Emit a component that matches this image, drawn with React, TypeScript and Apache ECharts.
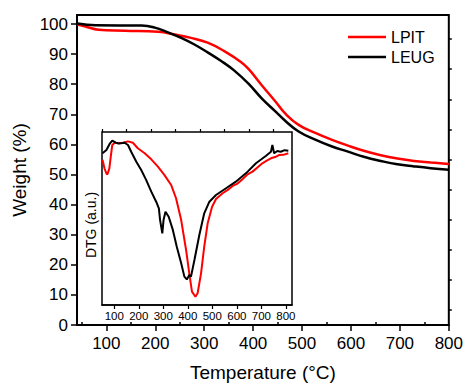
import React, { useEffect, useRef } from "react";
import * as echarts from "echarts";

// TG curves (main plot): temperature (°C) and weight (%)
const lpitTgT = [41, 57, 84, 138, 206, 240, 273, 307, 341, 375, 391, 418, 446, 466, 493, 527, 560, 594, 628, 661, 695, 729, 763, 800];
const lpitTgW = [99.8, 99.2, 98.1, 97.8, 97.4, 96.5, 95.4, 93.8, 91.0, 87.4, 85.0, 79.6, 74.2, 70.2, 66.5, 63.8, 61.6, 59.6, 57.8, 56.4, 55.3, 54.5, 54.0, 53.5];
const leugTgT = [41, 78, 172, 199, 226, 253, 280, 307, 334, 361, 391, 418, 446, 466, 493, 527, 560, 594, 628, 661, 695, 729, 763, 800];
const leugTgW = [100.2, 99.6, 99.5, 98.8, 97.2, 95.4, 93.2, 90.6, 87.8, 84.6, 80.1, 75.2, 70.9, 67.8, 64.3, 61.6, 59.4, 57.6, 55.8, 54.5, 53.4, 52.7, 52.1, 51.6];

// DTG curves (inset): temperature (°C) and DTG (a.u.)
const lpitDtgT = [52, 60, 68, 72, 80, 86, 92, 102, 118, 135, 156, 176, 196, 224, 251, 278, 305, 332, 352, 373, 393, 406, 417, 431, 440, 454, 467, 481, 499, 515, 542, 563, 583, 603, 623, 644, 664, 684, 704, 722, 739, 756, 772, 790, 810];
const lpitDtg = [84, 79, 76, 75.5, 79, 86, 92.5, 93.8, 93.5, 93.8, 94.6, 93.8, 90.6, 87.7, 84.2, 80, 75.1, 69.4, 61.7, 49.1, 31.8, 18.3, 7.7, 4.8, 6.8, 18.3, 33.7, 47.2, 56.8, 61.3, 64.6, 66.5, 68.8, 70.2, 72.7, 75.5, 77.1, 79.5, 81.9, 83.5, 84.8, 85.5, 86.7, 86.8, 87.7];
const leugDtgT = [52, 68, 81, 92, 106, 119, 142, 156, 169, 190, 210, 230, 251, 271, 282, 287, 296, 301, 309, 322, 339, 355, 373, 386, 396, 406, 413, 427, 447, 467, 488, 515, 556, 596, 637, 678, 718, 739, 745, 752, 765, 779, 795, 810];
const leugDtg = [87.7, 89.6, 93.1, 95, 93.8, 93.4, 93.8, 92.5, 88.6, 82.8, 78, 72.3, 65.5, 59.7, 55.9, 49.1, 41.4, 49.1, 53.9, 51, 43.4, 33.7, 24.1, 16.4, 14.8, 17.3, 16.4, 26, 40.5, 53, 59.7, 63.6, 67.5, 71.3, 76.1, 81.9, 86.1, 88.6, 92.5, 87.7, 89, 88.6, 89.5, 89.2];

const mainXMajor = [100, 200, 300, 400, 500, 600, 700, 800];
const mainXMinor = [50, 150, 250, 350, 450, 550, 650, 750];
const mainYMajor = [0, 10, 20, 30, 40, 50, 60, 70, 80, 90, 100];
const mainYMinor = [5, 15, 25, 35, 45, 55, 65, 75, 85, 95];
const insetXMajor = [100, 200, 300, 400, 500, 600, 700, 800];
const insetXMinor = [50, 150, 250, 350, 450, 550, 650, 750];

const zip = (a: number[], b: number[]) => a.map((v, i) => [v, b[i]]);

const FONT = "Arial, 'Liberation Sans', sans-serif";

export default function App() {
  const ref = useRef<HTMLDivElement>(null);
  useEffect(() => {
    if (!ref.current) return;
    const chart = echarts.init(ref.current, null, { renderer: "svg" });
    const black = "#000";
    chart.setOption({
      animation: false,
      textStyle: { fontFamily: FONT },
      grid: [
        { left: 77, top: 15, right: 14, bottom: 57, show: true, borderColor: black, borderWidth: 2, backgroundColor: "transparent" },
        { left: 102, top: 132, width: 190, height: 173, show: true, borderColor: black, borderWidth: 1.5, backgroundColor: "#fff", z: 5 },
      ],
      legend: {
        data: ["LPIT", "LEUG"],
        orient: "vertical",
        left: 348,
        top: 29,
        padding: 0,
        itemWidth: 38,
        itemHeight: 2.5,
        itemGap: 4,
        icon: "rect",
        textStyle: { fontSize: 16, color: black, fontFamily: FONT },
      },
      xAxis: [
        {
          gridIndex: 0, type: "value", min: 40, max: 800,
          axisLine: { show: true, lineStyle: { color: black, width: 2 } },
          axisTick: { show: true, customValues: mainXMajor, length: 6, lineStyle: { color: black, width: 1.5 } },
          axisLabel: { customValues: mainXMajor, fontSize: 17, color: black, margin: 10, fontFamily: FONT },
          splitLine: { show: false },
          name: "Temperature (°C)", nameLocation: "middle", nameGap: 38,
          nameTextStyle: { fontSize: 19, color: black, fontFamily: FONT },
        },
        {
          gridIndex: 0, type: "value", min: 40, max: 800,
          axisLine: { show: false },
          axisTick: { show: true, customValues: mainXMinor, length: 3, lineStyle: { color: black, width: 1.5 } },
          axisLabel: { show: false },
          splitLine: { show: false },
        },
        {
          gridIndex: 1, type: "value", min: 50, max: 825,
          axisLine: { show: true, lineStyle: { color: black, width: 1.5 } },
          axisTick: { show: true, customValues: insetXMajor, length: 4, lineStyle: { color: black, width: 1.2 } },
          axisLabel: { customValues: insetXMajor, fontSize: 11.5, color: black, margin: 5, fontFamily: FONT },
          splitLine: { show: false },
          z: 6,
        },
        {
          gridIndex: 1, type: "value", min: 50, max: 825,
          axisLine: { show: false },
          axisTick: { show: true, customValues: insetXMinor, length: 3, lineStyle: { color: black, width: 1.2 } },
          axisLabel: { show: false },
          splitLine: { show: false },
          z: 6,
        },
      ],
      yAxis: [
        {
          gridIndex: 0, type: "value", min: 0, max: 103,
          axisLine: { show: true, lineStyle: { color: black, width: 2 } },
          axisTick: { show: true, customValues: mainYMajor, length: 6, lineStyle: { color: black, width: 1.5 } },
          axisLabel: { customValues: mainYMajor, fontSize: 17, color: black, margin: 9, fontFamily: FONT },
          splitLine: { show: false },
          name: "Weight (%)", nameLocation: "middle", nameGap: 47,
          nameTextStyle: { fontSize: 19, color: black, fontFamily: FONT },
        },
        {
          gridIndex: 0, type: "value", min: 0, max: 103,
          axisLine: { show: false },
          axisTick: { show: true, customValues: mainYMinor, length: 3, lineStyle: { color: black, width: 1.5 } },
          axisLabel: { show: false },
          splitLine: { show: false },
        },
        {
          gridIndex: 1, type: "value", min: 0, max: 100,
          axisLine: { show: false },
          axisTick: { show: false },
          axisLabel: { show: false },
          splitLine: { show: false },
        },
      ],
      graphic: [
        {
          type: "text",
          x: 91,
          y: 225,
          rotation: Math.PI / 2,
          z: 10,
          style: { text: "DTG (a.u.)", fontSize: 14, fill: black, fontFamily: FONT, align: "center", verticalAlign: "middle" },
        },
      ],
      series: [
        { name: "LPIT", type: "line", xAxisIndex: 0, yAxisIndex: 0, data: zip(lpitTgT, lpitTgW), smooth: 0.45, showSymbol: false, symbol: "none", lineStyle: { color: "#ff0000", width: 2.5 }, itemStyle: { color: "#ff0000" }, z: 2 },
        { name: "LEUG", type: "line", xAxisIndex: 0, yAxisIndex: 0, data: zip(leugTgT, leugTgW), smooth: 0.45, showSymbol: false, symbol: "none", lineStyle: { color: black, width: 2.5 }, itemStyle: { color: black }, z: 2 },
        { name: "LPIT DTG", type: "line", xAxisIndex: 2, yAxisIndex: 2, data: zip(lpitDtgT, lpitDtg), showSymbol: false, symbol: "none", lineStyle: { color: "#ff0000", width: 2 }, itemStyle: { color: "#ff0000" }, z: 7 },
        { name: "LEUG DTG", type: "line", xAxisIndex: 2, yAxisIndex: 2, data: zip(leugDtgT, leugDtg), showSymbol: false, symbol: "none", lineStyle: { color: black, width: 2 }, itemStyle: { color: black }, z: 8 },
      ],
    });
    return () => chart.dispose();
  }, []);
  return <div ref={ref} style={{ width: 466, height: 387, position: "absolute", left: 0, top: 0 }} />;
}
